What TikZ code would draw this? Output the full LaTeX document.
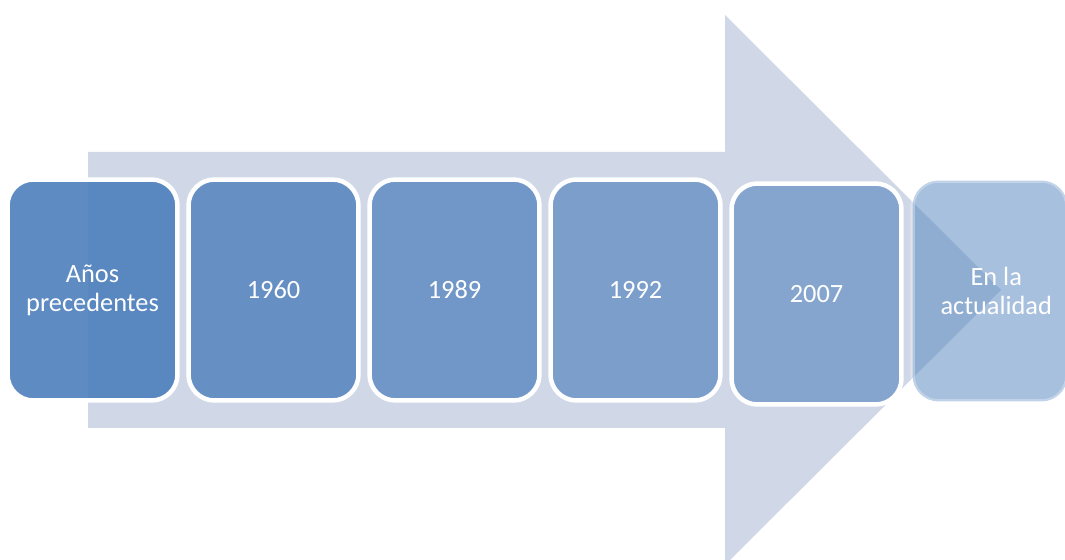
\documentclass[tikz,border=0pt]{standalone}
\usepackage{fontspec}
\setmainfont{Carlito}
\usetikzlibrary{positioning}
\definecolor{flecha}{RGB}{208,216,231}
\definecolor{azul}{RGB}{79,129,189}

\begin{document}
\begin{tikzpicture}[x=0.02cm,y=-0.02cm,
  etapa/.style={shape=rectangle,rounded corners=0.52cm,draw=white,line width=0.09cm,
    fill=azul,minimum width=3.4cm,minimum height=4.42cm,inner sep=0pt,
    text=white,text opacity=1,align=center,font=\fontsize{15}{16.5}\selectfont}]

\clip (0,0) rectangle (1065,560);

% big arrow behind the boxes
\fill[flecha] (88,152) -- (725,152) -- (725,15) -- (1001,290) -- (725,565) -- (725,428) -- (88,428) -- cycle;

\node[etapa,fill opacity=0.92] (anos) at (92.5,290) {Años\\precedentes};
\node[etapa,fill opacity=0.82] (a1960) at (273.5,290) {1960};
\node[etapa,fill opacity=0.74] (a1989) at (454.5,290) {1989};
\node[etapa,fill opacity=0.66] (a1992) at (635.5,290) {1992};
\node[etapa,fill opacity=0.58] (a2007) at (816.5,294) {2007};
\node[etapa,fill opacity=0.5,draw opacity=0.3,minimum width=3.1cm] (hoy) at (990,291) {\hspace*{0.25cm}En la\\\hspace*{0.25cm}actualidad};
\end{tikzpicture}
\end{document}
